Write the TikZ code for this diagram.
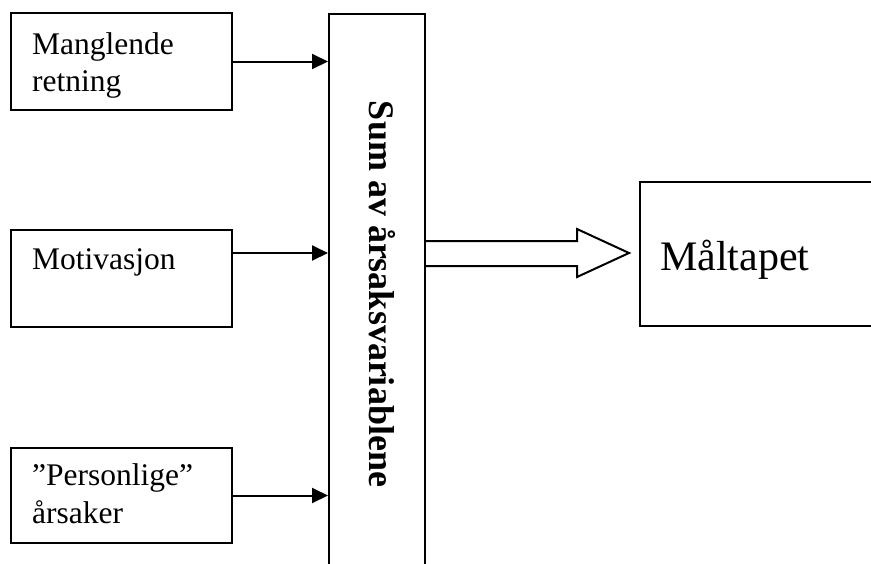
\documentclass[tikz,border=0pt]{standalone}
\usepackage{fontspec}
\setmainfont{Liberation Serif}
\usetikzlibrary{arrows.meta}
\begin{document}
\begin{tikzpicture}[x=1pt,y=-1pt,
  box/.style={draw, line width=2pt, rectangle, inner sep=0pt, anchor=north west},
  lbl/.style={anchor=base west, inner sep=0pt, font=\fontsize{31.5}{37}\selectfont},
  arr/.style={line width=2pt, -{Triangle[length=16pt,width=15pt]}},
  hollow/.style={draw, line width=2pt, line join=miter}]
\useasboundingbox (0,0) rectangle (871,563);
\clip (0,0) rectangle (871,563);
% left boxes
\node[box, minimum width=221pt, minimum height=97pt] (b1) at (10,12) {};
\node[box, minimum width=221pt, minimum height=97pt] (b2) at (10,229) {};
\node[box, minimum width=221pt, minimum height=95pt] (b3) at (10,447) {};
% tall sum box (open at the bottom, cut by the page)
\node[box, minimum width=96pt, minimum height=600pt] (sum) at (328,13) {};
% result box (cut by the page on the right)
\node[box, minimum width=300pt, minimum height=144pt] (res) at (639,181) {};
% texts
\node[lbl] (t1a) at (32,54) {Manglende};
\node[lbl] (t1b) at (32,91) {retning};
\node[lbl] (t2) at (32,269) {Motivasjon};
\node[lbl] (t3a) at (32,485) {”Personlige”};
\node[lbl] (t3b) at (32,523) {årsaker};
\node[anchor=base west, inner sep=0pt, font=\fontsize{42}{50}\selectfont] (t4) at (660,270) {Måltapet};
\node[rotate=-90, anchor=base, inner sep=0pt, font=\bfseries\fontsize{36}{43}\selectfont] (t5) at (369,294) {Sum av årsaksvariablene};
% arrows
\draw[arr] (b1.east) -- (b1.east -| sum.west);
\draw[arr] ([yshift=25.5pt]b2.east) -- ([yshift=25.5pt]b2.east -| sum.west);
\draw[arr] (b3.east) -- (b3.east -| sum.west);
% hollow arrow
\coordinate (tip) at (res.west |- 0,253);
\draw[hollow] (sum.east |- 0,241) -- (577,241) -- (577,229) -- ([xshift=-10pt]tip) -- (577,277) -- (577,266) -- (sum.east |- 0,266);
\end{tikzpicture}
\end{document}
